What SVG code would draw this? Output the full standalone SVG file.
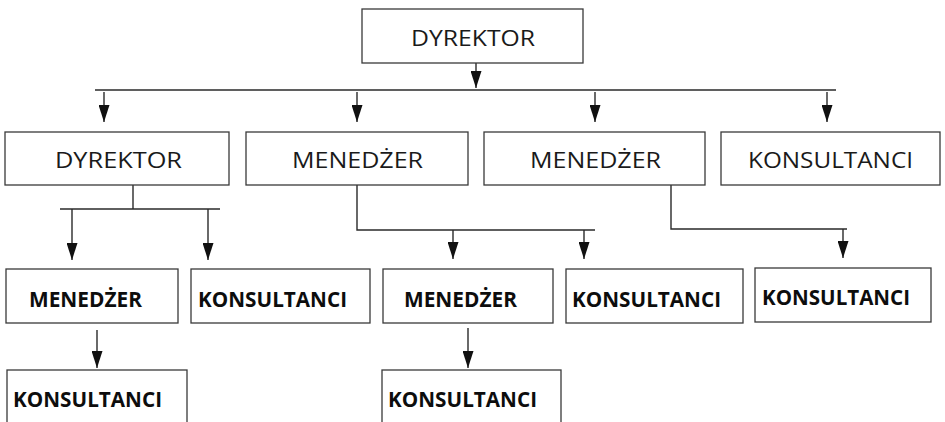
<svg xmlns="http://www.w3.org/2000/svg" width="945" height="422" viewBox="0 0 945 422">
  <style>
    .box { fill: #fff; stroke: #3a3a3a; stroke-width: 1.3; }
    .lbl { font-family: "Open Sans", "Noto Sans", "DejaVu Sans", sans-serif; font-size: 22px; fill: #1a1a1a; }
    .lblb { font-family: "Open Sans", "Noto Sans", "DejaVu Sans", sans-serif; font-size: 20.5px; font-weight: bold; fill: #0d0d0d; }
    .wire { fill: none; stroke: #2a2a2a; stroke-width: 1.4; }
  </style>
  <defs>
    <!-- solid downward arrowhead -->
    <marker id="dn" viewBox="0 0 11 17" refX="5.5" refY="17" markerWidth="11" markerHeight="17" markerUnits="userSpaceOnUse" orient="0">
      <path d="M0,0 L11,0 L5.5,17 Z" fill="#111"/>
    </marker>
  </defs>
  <rect width="945" height="422" fill="#fff"/>

  <!-- connectors -->
  <g id="connectors">
    <!-- top director to the bus -->
    <line class="wire" x1="476" y1="52" x2="476" y2="88" marker-end="url(#dn)"/>
    <line class="wire" x1="95" y1="90" x2="836" y2="90"/>
    <line class="wire" x1="104" y1="92" x2="104" y2="122" marker-end="url(#dn)"/>
    <line class="wire" x1="357" y1="92" x2="357" y2="122" marker-end="url(#dn)"/>
    <line class="wire" x1="595" y1="92" x2="595" y2="122" marker-end="url(#dn)"/>
    <line class="wire" x1="827" y1="92" x2="827" y2="122" marker-end="url(#dn)"/>
    <!-- second director -->
    <line class="wire" x1="133" y1="185" x2="133" y2="209"/>
    <line class="wire" x1="60" y1="209" x2="220" y2="209"/>
    <line class="wire" x1="72" y1="209" x2="72" y2="260" marker-end="url(#dn)"/>
    <line class="wire" x1="208" y1="209" x2="208" y2="260" marker-end="url(#dn)"/>
    <!-- first manager -->
    <polyline class="wire" points="357,185 357,230 595,230"/>
    <line class="wire" x1="453" y1="230" x2="453" y2="259" marker-end="url(#dn)"/>
    <line class="wire" x1="584" y1="230" x2="584" y2="259" marker-end="url(#dn)"/>
    <!-- second manager -->
    <polyline class="wire" points="671,185 671,229 847,229"/>
    <line class="wire" x1="843" y1="229" x2="843" y2="258" marker-end="url(#dn)"/>
    <!-- managers to consultants -->
    <line class="wire" x1="97" y1="330" x2="97" y2="368" marker-end="url(#dn)"/>
    <line class="wire" x1="468" y1="328" x2="468" y2="368" marker-end="url(#dn)"/>
  </g>

  <g id="n-dyrektor-top">
    <rect class="box" x="362" y="9" width="221" height="54"/>
    <text class="lbl" x="411" y="46" textLength="124" lengthAdjust="spacingAndGlyphs">DYREKTOR</text>
  </g>

  <g id="n-dyrektor">
    <rect class="box" x="5" y="132" width="224" height="53"/>
    <text class="lbl" x="55" y="168" textLength="127" lengthAdjust="spacingAndGlyphs">DYREKTOR</text>
  </g>
  <g id="n-menedzer-1">
    <rect class="box" x="246" y="132" width="222" height="53"/>
    <text class="lbl" x="292" y="168" textLength="131" lengthAdjust="spacingAndGlyphs">MENEDŻER</text>
  </g>
  <g id="n-menedzer-2">
    <rect class="box" x="484" y="132" width="221" height="53"/>
    <text class="lbl" x="530" y="168" textLength="131" lengthAdjust="spacingAndGlyphs">MENEDŻER</text>
  </g>
  <g id="n-konsultanci">
    <rect class="box" x="721" y="132" width="219" height="53"/>
    <text class="lbl" x="748" y="168" textLength="165" lengthAdjust="spacingAndGlyphs">KONSULTANCI</text>
  </g>

  <g id="n-menedzer-a">
    <rect class="box" x="6" y="269" width="172" height="54"/>
    <text class="lblb" x="29" y="307" textLength="113" lengthAdjust="spacingAndGlyphs">MENEDŻER</text>
  </g>
  <g id="n-konsultanci-a">
    <rect class="box" x="191" y="269" width="179" height="54"/>
    <text class="lblb" x="198" y="307" textLength="149" lengthAdjust="spacingAndGlyphs">KONSULTANCI</text>
  </g>
  <g id="n-menedzer-b">
    <rect class="box" x="383" y="269" width="170" height="54"/>
    <text class="lblb" x="404" y="307" textLength="113" lengthAdjust="spacingAndGlyphs">MENEDŻER</text>
  </g>
  <g id="n-konsultanci-b">
    <rect class="box" x="566" y="269" width="177" height="54"/>
    <text class="lblb" x="572" y="307" textLength="149" lengthAdjust="spacingAndGlyphs">KONSULTANCI</text>
  </g>
  <g id="n-konsultanci-c">
    <rect class="box" x="755" y="268" width="176" height="54"/>
    <text class="lblb" x="762" y="305" textLength="148" lengthAdjust="spacingAndGlyphs">KONSULTANCI</text>
  </g>

  <g id="n-konsultanci-d">
    <rect class="box" x="7" y="370" width="180" height="60"/>
    <text class="lblb" x="13" y="407" textLength="149" lengthAdjust="spacingAndGlyphs">KONSULTANCI</text>
  </g>
  <g id="n-konsultanci-e">
    <rect class="box" x="382" y="370" width="179" height="60"/>
    <text class="lblb" x="388" y="407" textLength="149" lengthAdjust="spacingAndGlyphs">KONSULTANCI</text>
  </g>
</svg>
